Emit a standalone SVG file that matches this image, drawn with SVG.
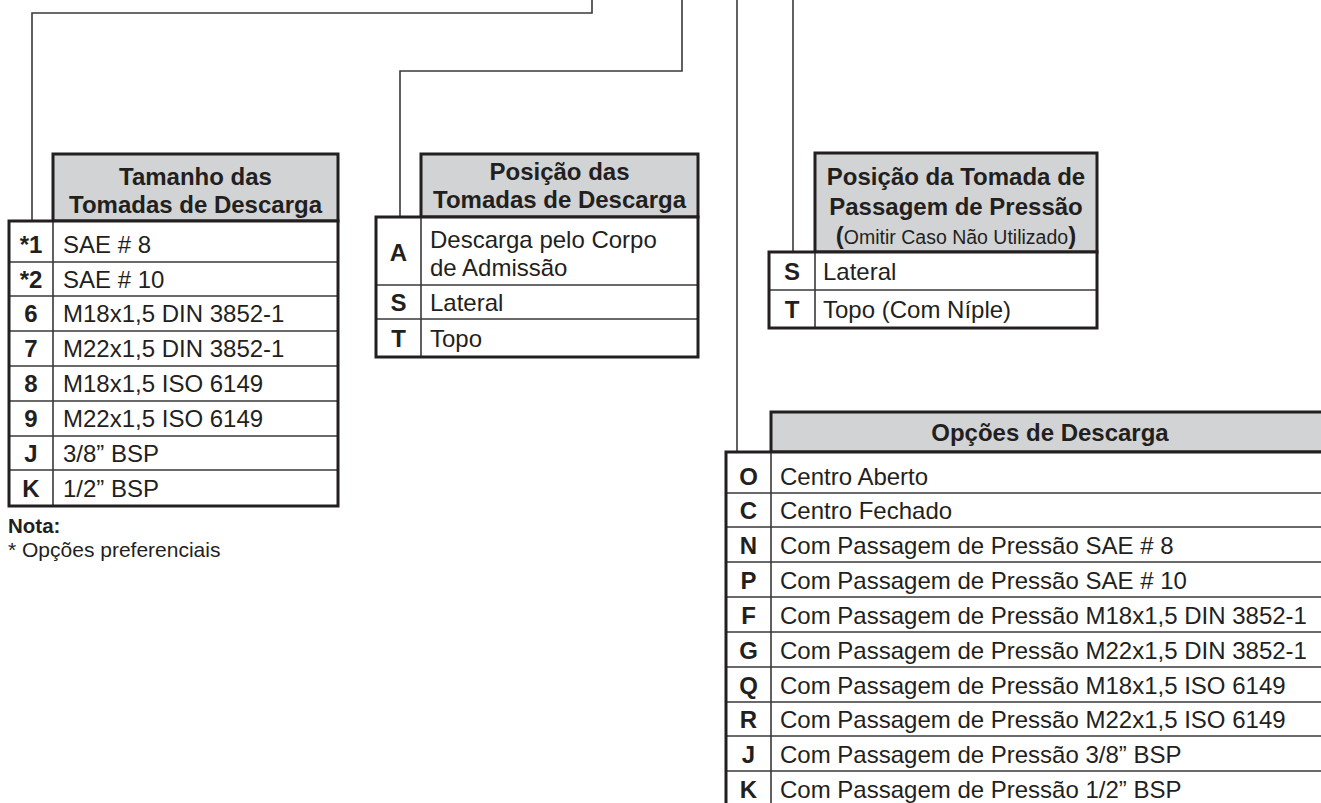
<svg xmlns="http://www.w3.org/2000/svg" width="1321" height="803" viewBox="0 0 1321 803">
<style>
text{font-family:"Liberation Sans",Arial,Helvetica,sans-serif;fill:#231f20;font-size:24px}
.b{font-weight:bold}
.c{text-anchor:middle}
.hdr{fill:#d1d3d4;stroke:#231f20;stroke-width:3}
.body{fill:#ffffff;stroke:none}
.frame{fill:none;stroke:#231f20;stroke-width:3}
.rl{stroke:#3a3a3a;stroke-width:1.6;fill:none}
.conn{stroke:#3a3a3a;stroke-width:1.6;fill:none}
</style>
<rect width="1321" height="803" fill="#ffffff"/>
<g id="connectors">
<path class="conn" d="M592,0 V13 H32 V221"/>
<path class="conn" d="M682,0 V71 H400 V217"/>
<path class="conn" d="M737,0 V452"/>
<path class="conn" d="M793,0 V252"/>
</g>
<g id="table-tamanho">
<rect class="hdr" x="53" y="154" width="285" height="67"/>
<text class="b c" x="195.5" y="185">Tamanho das</text>
<text class="b c" x="195.5" y="213">Tomadas de Descarga</text>
<rect class="body" x="9" y="221" width="329" height="285"/>
<path class="rl" d="M9,262 H338 M9,296 H338 M9,331 H338 M9,366 H338 M9,401 H338 M9,436 H338 M9,470 H338 M53,221 V506"/>
<rect class="frame" x="9" y="221" width="329" height="285"/>
<text class="b c" x="31" y="253">*1</text><text x="63" y="253">SAE # 8</text>
<text class="b c" x="31" y="287.5">*2</text><text x="63" y="287.5">SAE # 10</text>
<text class="b c" x="31" y="322">6</text><text x="63" y="322">M18x1,5 DIN 3852-1</text>
<text class="b c" x="31" y="357">7</text><text x="63" y="357">M22x1,5 DIN 3852-1</text>
<text class="b c" x="31" y="392">8</text><text x="63" y="392">M18x1,5 ISO 6149</text>
<text class="b c" x="31" y="427">9</text><text x="63" y="427">M22x1,5 ISO 6149</text>
<text class="b c" x="31" y="461.5">J</text><text x="63" y="461.5">3/8” BSP</text>
<text class="b c" x="31" y="497">K</text><text x="63" y="497">1/2” BSP</text>
</g>
<g id="nota">
<text class="b" x="8" y="533" style="font-size:20.5px">Nota:</text>
<text x="8" y="557" style="font-size:21px">* Opções preferenciais</text>
</g>
<g id="table-posicao-tomadas">
<rect class="hdr" x="421" y="154" width="277" height="63"/>
<text class="b c" x="559.5" y="180">Posição das</text>
<text class="b c" x="559.5" y="208">Tomadas de Descarga</text>
<rect class="body" x="376" y="217" width="322" height="140"/>
<path class="rl" d="M376,285 H698 M376,319 H698 M421,217 V357"/>
<rect class="frame" x="376" y="217" width="322" height="140"/>
<text class="b c" x="398.5" y="261">A</text>
<text x="430" y="248">Descarga pelo Corpo</text>
<text x="430" y="276">de Admissão</text>
<text class="b c" x="398.5" y="310.5">S</text><text x="430" y="310.5">Lateral</text>
<text class="b c" x="398.5" y="346.5">T</text><text x="430" y="346.5">Topo</text>
</g>
<g id="table-posicao-passagem">
<rect class="hdr" x="815" y="153" width="282" height="99"/>
<text class="b c" x="956" y="185">Posição da Tomada de</text>
<text class="b c" x="956" y="215">Passagem de Pressão</text>
<text class="c" x="956" y="244"><tspan class="b">(</tspan><tspan style="font-size:19.5px">Omitir Caso Não Utilizado</tspan><tspan class="b">)</tspan></text>
<rect class="body" x="769" y="252" width="328" height="76"/>
<path class="rl" d="M769,290 H1097 M815,252 V328"/>
<rect class="frame" x="769" y="252" width="328" height="76"/>
<text class="b c" x="792" y="279.5">S</text><text x="823" y="279.5">Lateral</text>
<text class="b c" x="792" y="317.5">T</text><text x="823" y="317.5">Topo (Com Níple)</text>
</g>
<g id="table-opcoes">
<rect class="hdr" x="771" y="412" width="560" height="40"/>
<text class="b c" x="1050" y="441">Opções de Descarga</text>
<rect class="body" x="726" y="452" width="605" height="360"/>
<path class="rl" d="M726,493 H1331 M726,527 H1331 M726,562 H1331 M726,597 H1331 M726,632 H1331 M726,667 H1331 M726,702 H1331 M726,736 H1331 M726,771 H1331 M771,452 V812"/>
<rect class="frame" x="726" y="452" width="605" height="360"/>
<text class="b c" x="748.5" y="484.5">O</text><text x="780" y="484.5">Centro Aberto</text>
<text class="b c" x="748.5" y="518.5">C</text><text x="780" y="518.5">Centro Fechado</text>
<text class="b c" x="748.5" y="553.5">N</text><text x="780" y="553.5">Com Passagem de Pressão SAE # 8</text>
<text class="b c" x="748.5" y="588.5">P</text><text x="780" y="588.5">Com Passagem de Pressão SAE # 10</text>
<text class="b c" x="748.5" y="623.5">F</text><text x="780" y="623.5">Com Passagem de Pressão M18x1,5 DIN 3852-1</text>
<text class="b c" x="748.5" y="658.5">G</text><text x="780" y="658.5">Com Passagem de Pressão M22x1,5 DIN 3852-1</text>
<text class="b c" x="748.5" y="693.5">Q</text><text x="780" y="693.5">Com Passagem de Pressão M18x1,5 ISO 6149</text>
<text class="b c" x="748.5" y="727.5">R</text><text x="780" y="727.5">Com Passagem de Pressão M22x1,5 ISO 6149</text>
<text class="b c" x="748.5" y="762.5">J</text><text x="780" y="762.5">Com Passagem de Pressão 3/8” BSP</text>
<text class="b c" x="748.5" y="797.5">K</text><text x="780" y="797.5">Com Passagem de Pressão 1/2” BSP</text>
</g>
</svg>
